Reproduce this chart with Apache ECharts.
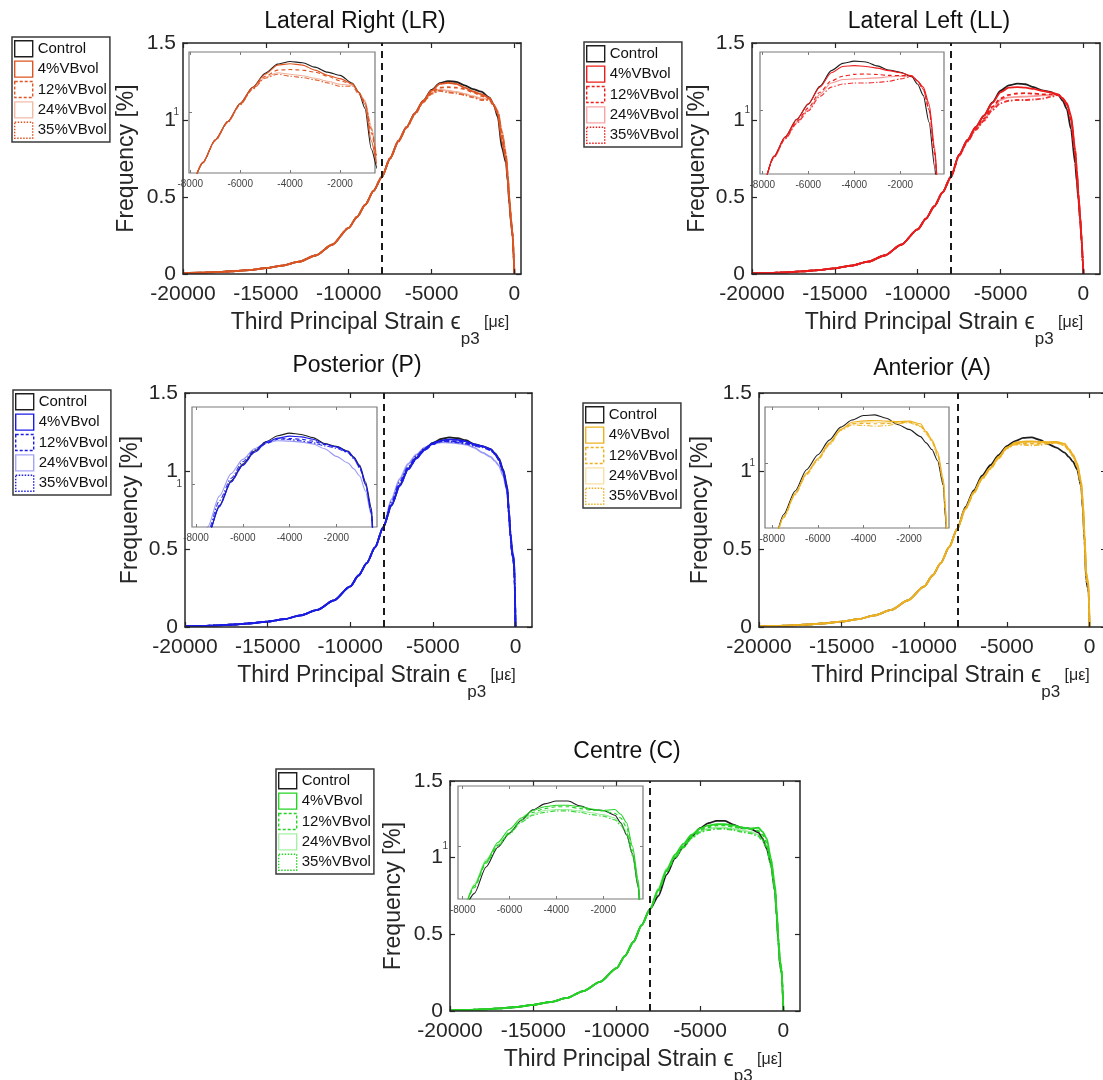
<!DOCTYPE html>
<html>
<head>
<meta charset="utf-8">
<script src="https://cdn.jsdelivr.net/npm/echarts@6/dist/echarts.min.js"></script>
<style>html,body{margin:0;padding:0;background:#fff}#c{width:1103px;height:1080px}</style>
</head>
<body>
<div id="c"></div>
<script>
// ---------------- DATA ----------------
const strainX = [-20000,-19000,-18000,-17000,-16000,-15000,-14000,-13000,-12000,-11000,-10000,-9500,-9000,-8500,-8000,
  -7500,-7000,-6500,-6000,-5500,-5000,-4500,-4000,-3500,-3000,-2500,-2000,-1500,-1250,-1000,-750,-500,-400,-300,-200,-100,-50,0];
const variantNames = ['Control','4%VBvol','12%VBvol','24%VBvol','35%VBvol'];
const mainXTicks = [-20000,-15000,-10000,-5000,0];
const insetXTicks = [-8000,-6000,-4000,-2000];
const insetYTicks = [1];

// shared low-strain tail (-20000 .. -8000), all groups overlap there
const lrTail = [0.005,0.008,0.012,0.018,0.026,0.038,0.055,0.08,0.12,0.19,0.30,0.37,0.45,0.54,0.63];
const llTail = [0.004,0.007,0.011,0.017,0.025,0.037,0.054,0.08,0.12,0.19,0.29,0.36,0.44,0.53,0.63];
const pTail  = [0.004,0.007,0.011,0.016,0.024,0.035,0.05,0.075,0.11,0.17,0.26,0.33,0.41,0.51,0.64];
const aTail  = [0.004,0.007,0.011,0.016,0.024,0.035,0.05,0.075,0.11,0.17,0.26,0.33,0.41,0.51,0.63];
const cTail  = [0.004,0.007,0.011,0.017,0.026,0.04,0.058,0.085,0.13,0.19,0.28,0.36,0.45,0.56,0.665];

// values from -7500 .. 0
const lrControl = [0.75,0.865,0.955,1.045,1.125,1.195,1.24,1.253,1.247,1.225,1.20,1.184,1.145,1.10,1.02,0.82,0.72,0.60,0.45,0.33,0.24,0.12,0];
const lr4  = [0.75,0.865,0.955,1.045,1.125,1.19,1.235,1.242,1.235,1.21,1.185,1.168,1.142,1.10,1.04,0.86,0.74,0.62,0.47,0.34,0.24,0.13,0];
const lr12 = [0.75,0.86,0.952,1.04,1.12,1.18,1.21,1.213,1.21,1.20,1.18,1.157,1.14,1.10,1.05,0.90,0.76,0.63,0.48,0.35,0.25,0.14,0];
const lr24 = [0.755,0.862,0.953,1.04,1.118,1.175,1.197,1.19,1.182,1.17,1.155,1.14,1.135,1.10,1.06,0.93,0.78,0.65,0.50,0.36,0.26,0.15,0];
const lr35 = [0.752,0.86,0.95,1.038,1.115,1.17,1.19,1.18,1.173,1.162,1.147,1.13,1.13,1.09,1.05,0.92,0.77,0.64,0.49,0.35,0.25,0.14,0];

const llControl = [0.775,0.87,0.954,1.028,1.114,1.19,1.225,1.236,1.232,1.213,1.193,1.182,1.16,1.125,1.07,0.94,0.72,0.60,0.48,0.35,0.20,0.10,0];
const ll4  = [0.775,0.87,0.955,1.03,1.11,1.18,1.21,1.214,1.21,1.202,1.19,1.18,1.165,1.14,1.11,1.03,0.80,0.68,0.52,0.38,0.22,0.10,0];
const ll12 = [0.77,0.865,0.945,1.01,1.085,1.14,1.163,1.172,1.174,1.171,1.167,1.166,1.165,1.14,1.10,1.0,0.78,0.65,0.50,0.36,0.20,0.10,0];
const ll24 = [0.77,0.862,0.94,1.0,1.075,1.13,1.147,1.15,1.152,1.155,1.16,1.163,1.163,1.14,1.10,1.02,0.82,0.68,0.52,0.37,0.21,0.10,0];
const ll35 = [0.768,0.86,0.935,0.995,1.065,1.11,1.125,1.13,1.13,1.133,1.138,1.15,1.162,1.14,1.10,1.0,0.80,0.66,0.50,0.36,0.20,0.10,0];

const pControl = [0.78,0.91,1.015,1.085,1.14,1.18,1.205,1.216,1.21,1.197,1.172,1.16,1.14,1.115,1.08,1.01,0.90,0.75,0.60,0.48,0.42,0.30,0];
const p4  = [0.78,0.905,1.01,1.08,1.135,1.175,1.195,1.203,1.20,1.19,1.17,1.158,1.138,1.112,1.075,1.0,0.88,0.72,0.58,0.47,0.45,0.32,0];
const p12 = [0.785,0.91,1.01,1.08,1.135,1.172,1.19,1.193,1.19,1.182,1.168,1.157,1.136,1.11,1.07,1.0,0.88,0.73,0.58,0.46,0.40,0.28,0];
const p24 = [0.82,0.95,1.045,1.105,1.15,1.175,1.184,1.182,1.178,1.17,1.15,1.118,1.09,1.065,1.035,0.97,0.87,0.74,0.60,0.50,0.44,0.30,0];
const p35 = [0.80,0.93,1.025,1.095,1.145,1.18,1.193,1.189,1.183,1.175,1.162,1.152,1.133,1.108,1.07,1.0,0.89,0.74,0.59,0.48,0.43,0.31,0];

const aControl = [0.77,0.875,0.97,1.037,1.102,1.16,1.192,1.212,1.215,1.20,1.172,1.15,1.118,1.09,1.06,1.01,0.90,0.75,0.55,0.30,0.25,0.22,0];
const a4  = [0.76,0.865,0.955,1.02,1.09,1.15,1.182,1.188,1.19,1.187,1.185,1.187,1.175,1.14,1.105,1.05,0.93,0.80,0.60,0.35,0.30,0.25,0];
const a12 = [0.76,0.862,0.952,1.018,1.085,1.15,1.175,1.177,1.175,1.176,1.18,1.182,1.168,1.14,1.10,1.04,0.92,0.78,0.58,0.34,0.28,0.24,0];
const a24 = [0.758,0.86,0.95,1.015,1.083,1.148,1.175,1.182,1.183,1.18,1.18,1.185,1.165,1.135,1.10,1.04,0.92,0.78,0.58,0.33,0.28,0.23,0];
const a35 = [0.756,0.858,0.948,1.012,1.08,1.145,1.17,1.168,1.164,1.167,1.175,1.18,1.163,1.13,1.095,1.03,0.91,0.77,0.57,0.32,0.27,0.23,0];

const cControl = [0.75,0.89,0.995,1.07,1.138,1.193,1.225,1.24,1.24,1.215,1.195,1.19,1.165,1.125,1.06,0.96,0.78,0.62,0.45,0.30,0.25,0.15,0];
const c4  = [0.79,0.92,1.02,1.09,1.15,1.19,1.21,1.218,1.218,1.21,1.198,1.19,1.195,1.17,1.125,1.0,0.82,0.66,0.48,0.33,0.27,0.16,0];
const c12 = [0.78,0.91,1.005,1.075,1.14,1.18,1.20,1.21,1.21,1.20,1.192,1.187,1.175,1.15,1.10,0.98,0.80,0.64,0.47,0.32,0.26,0.15,0];
const c24 = [0.80,0.93,1.01,1.07,1.13,1.17,1.19,1.195,1.195,1.188,1.178,1.168,1.15,1.12,1.08,0.96,0.79,0.63,0.46,0.31,0.25,0.15,0];
const c35 = [0.79,0.915,1.0,1.065,1.127,1.165,1.18,1.188,1.188,1.18,1.168,1.16,1.14,1.11,1.07,0.95,0.78,0.62,0.45,0.30,0.24,0.14,0];

const panelData = [
  {tail: lrTail, lines: [lrControl, lr4, lr12, lr24, lr35]},
  {tail: llTail, lines: [llControl, ll4, ll12, ll24, ll35]},
  {tail: pTail,  lines: [pControl, p4, p12, p24, p35]},
  {tail: aTail,  lines: [aControl, a4, a12, a24, a35]},
  {tail: cTail,  lines: [cControl, c4, c12, c24, c35]}
];

// ---------------- LAYOUT / STYLE ----------------
const panels = [
  {title:'Lateral Right (LR)', color:'#DD5522', main:{left:183,top:43,width:338,height:231}, xMax:400,
   inset:{left:189,top:52,width:186,height:121}, insetX:[-8050,-600], insetY:[0.7,1.3], legend:{left:12,top:37}, tc:[355,23], yGap:43},
  {title:'Lateral Left (LL)', color:'#EE1C1C', main:{left:752,top:43,width:348,height:231}, xMax:1000,
   inset:{left:760,top:52,width:184,height:122}, insetX:[-8100,-100], insetY:[0.69,1.28], legend:{left:584,top:42}, tc:[929,23], yGap:41},
  {title:'Posterior (P)', color:'#1C1CE8', main:{left:185,top:393,width:347,height:234}, xMax:1000,
   inset:{left:192,top:407,width:185,height:120}, insetX:[-8170,-260], insetY:[0.82,1.326], legend:{left:13,top:390}, tc:[357,367], yGap:41},
  {title:'Anterior (A)', color:'#EDB120', main:{left:759,top:393,width:347,height:234}, xMax:1000,
   inset:{left:765,top:407,width:184,height:121}, insetX:[-8320,-250], insetY:[0.71,1.25], legend:{left:583,top:403}, tc:[932,370], yGap:45},
  {title:'Centre (C)', color:'#25D425', main:{left:450,top:781,width:350,height:230}, xMax:1000,
   inset:{left:458,top:786,width:185,height:113}, insetX:[-8200,-300], insetY:[0.72,1.32], legend:{left:276,top:769}, tc:[627,753], yGap:43}
];

const FONT = '"Liberation Sans", Arial, Helvetica, sans-serif';
const AX = '#262626';
const INSET_AX = '#7a7a7a';

function rgba(hex, a) {
  const n = parseInt(hex.slice(1), 16);
  return 'rgba(' + ((n >> 16) & 255) + ',' + ((n >> 8) & 255) + ',' + (n & 255) + ',' + a + ')';
}
function lineStyleFor(color, j, width) {
  const s = [
    {color:'#1e1e1e', type:'solid'},
    {color:color, type:'solid'},
    {color:color, type:[4,3]},
    {color:rgba(color,0.45), type:'solid'},
    {color:rgba(color,0.9), type:[5,2,1.5,2]}
  ][j];
  return {color:s.color, type:s.type, width:width};
}
function legendItemStyle(color, j) {
  const s = [
    {c:'#1e1e1e', t:'solid'},
    {c:color, t:'solid'},
    {c:color, t:[3,2]},
    {c:rgba(color,0.4), t:'solid'},
    {c:color, t:[1.5,1.5]}
  ][j];
  return {color:'#fff', borderColor:s.c, borderWidth:1.4, borderType:s.t};
}
const fmt = v => String(v);

const option = {
  animation:false,
  textStyle:{fontFamily:FONT},
  title:[], legend:[], grid:[], xAxis:[], yAxis:[], series:[]
};

panels.forEach((p, pi) => {
  const gMain = option.grid.length;
  option.grid.push(Object.assign({show:false, containLabel:false, outerBoundsMode:'none'}, p.main));
  option.grid.push(Object.assign({show:true, containLabel:false, outerBoundsMode:'none', backgroundColor:'#fff',
    borderColor:INSET_AX, borderWidth:1.2, z:10}, p.inset));
  const gIns = gMain + 1;

  option.title.push({text:p.title, left:p.tc[0], top:p.tc[1]-13, textAlign:'center', padding:0,
    textStyle:{fontSize:23, fontWeight:'normal', color:'#111', fontFamily:FONT}});

  option.legend.push({
    left:p.legend.left, top:p.legend.top, orient:'vertical', icon:'rect', selectedMode:false,
    itemWidth:18, itemHeight:16, itemGap:3, padding:[3,3,3,2],
    backgroundColor:'#fff', borderColor:'#3a3a3a', borderWidth:1.5,
    textStyle:{fontSize:15, color:'#111', lineHeight:16, fontFamily:FONT},
    data: variantNames.map((n, j) => ({name:n, itemStyle:legendItemStyle(p.color, j)}))
  });

  const xb = option.xAxis.length;
  option.xAxis.push({
    type:'value', gridIndex:gMain, position:'bottom', min:-20000, max:p.xMax, z:3,
    axisLine:{show:true, onZero:false, lineStyle:{color:AX, width:1.5}},
    axisTick:{show:true, inside:true, length:5, customValues:mainXTicks, lineStyle:{color:AX, width:1.2}},
    axisLabel:{show:true, customValues:mainXTicks, formatter:fmt, fontSize:21, color:AX, margin:10, fontFamily:FONT},
    splitLine:{show:false},
    name:'{m|Third Principal Strain }{m|ϵ}{s|p3}{u| [με]}', nameLocation:'middle', nameGap:24, nameMoveOverlap:false,
    nameTextStyle:{padding:[0,0,0,36], fontFamily:FONT, rich:{
      m:{fontSize:23, lineHeight:50, verticalAlign:'middle', color:AX, fontFamily:FONT},
      s:{fontSize:17, lineHeight:20, verticalAlign:'bottom', color:AX, fontFamily:FONT},
      u:{fontSize:16, lineHeight:20, verticalAlign:'middle', color:AX, fontFamily:FONT}
    }}
  });
  option.xAxis.push({
    type:'value', gridIndex:gMain, position:'top', min:-20000, max:p.xMax, z:3,
    axisLine:{show:true, onZero:false, lineStyle:{color:AX, width:1.5}},
    axisTick:{show:true, inside:true, length:5, customValues:mainXTicks, lineStyle:{color:AX, width:1.2}},
    axisLabel:{show:false}, splitLine:{show:false}
  });
  option.xAxis.push({
    type:'value', gridIndex:gIns, position:'bottom', min:p.insetX[0], max:p.insetX[1], z:12,
    axisLine:{show:false, onZero:false},
    axisTick:{show:true, inside:true, length:3, customValues:insetXTicks, lineStyle:{color:INSET_AX, width:1}},
    axisLabel:{show:true, customValues:insetXTicks, formatter:fmt, fontSize:10, color:'#444', margin:6, fontFamily:FONT},
    splitLine:{show:false}
  });
  option.xAxis.push({
    type:'value', gridIndex:gIns, position:'top', min:p.insetX[0], max:p.insetX[1], z:12,
    axisLine:{show:false, onZero:false},
    axisTick:{show:true, inside:true, length:3, customValues:insetXTicks, lineStyle:{color:INSET_AX, width:1}},
    axisLabel:{show:false}, splitLine:{show:false}
  });

  const yb = option.yAxis.length;
  option.yAxis.push({
    type:'value', gridIndex:gMain, position:'left', min:0, max:1.5, interval:0.5, z:3,
    axisLine:{show:true, onZero:false, lineStyle:{color:AX, width:1.5}},
    axisTick:{show:true, inside:true, length:5, lineStyle:{color:AX, width:1.2}},
    axisLabel:{show:true, formatter:fmt, fontSize:21, color:AX, margin:7, fontFamily:FONT},
    splitLine:{show:false},
    name:'Frequency [%]', nameLocation:'middle', nameRotate:90, nameGap:p.yGap, nameMoveOverlap:false,
    nameTextStyle:{fontSize:23, color:AX, lineHeight:26, fontFamily:FONT}
  });
  option.yAxis.push({
    type:'value', gridIndex:gMain, position:'right', min:0, max:1.5, interval:0.5, z:3,
    axisLine:{show:true, onZero:false, lineStyle:{color:AX, width:1.5}},
    axisTick:{show:true, inside:true, length:5, lineStyle:{color:AX, width:1.2}},
    axisLabel:{show:false}, splitLine:{show:false}
  });
  option.yAxis.push({
    type:'value', gridIndex:gIns, position:'left', min:p.insetY[0], max:p.insetY[1], z:12,
    axisLine:{show:false, onZero:false},
    axisTick:{show:true, inside:true, length:3, customValues:insetYTicks, lineStyle:{color:INSET_AX, width:1}},
    axisLabel:{show:true, customValues:insetYTicks, formatter:fmt, fontSize:10, color:'#444', margin:10, fontFamily:FONT},
    splitLine:{show:false}
  });
  option.yAxis.push({
    type:'value', gridIndex:gIns, position:'right', min:p.insetY[0], max:p.insetY[1], z:12,
    axisLine:{show:false, onZero:false},
    axisTick:{show:true, inside:true, length:3, customValues:insetYTicks, lineStyle:{color:INSET_AX, width:1}},
    axisLabel:{show:false}, splitLine:{show:false}
  });

  const d = panelData[pi];
  variantNames.forEach((name, j) => {
    const data = strainX.map((x, k) => [x, k < d.tail.length ? d.tail[k] : d.lines[j][k - d.tail.length]]);
    const common = {type:'line', name:name, data:data, showSymbol:false, symbol:'none',
      smooth:0.25, smoothMonotone:'x', silent:true, animation:false, emphasis:{disabled:true}};
    const mainS = Object.assign({}, common, {xAxisIndex:xb, yAxisIndex:yb, z:2,
      itemStyle:{color:lineStyleFor(p.color, j, 1.8).color}, lineStyle:lineStyleFor(p.color, j, 1.8)});
    const insS = Object.assign({}, common, {xAxisIndex:xb+2, yAxisIndex:yb+2, z:11,
      itemStyle:{color:lineStyleFor(p.color, j, 1.1).color}, lineStyle:lineStyleFor(p.color, j, 1.1)});
    if (j === 0) {
      mainS.markLine = {silent:true, symbol:['none','none'], label:{show:false}, animation:false,
        lineStyle:{color:'#1a1a1a', width:2, type:[7,5]}, emphasis:{disabled:true}, data:[{xAxis:-8000}]};
      insS.markLine = {silent:true, symbol:['none','none'], label:{show:false}, animation:false,
        lineStyle:{color:'#333', width:1, type:[2,2]}, emphasis:{disabled:true}, data:[{xAxis:-8000}]};
    }
    option.series.push(mainS, insS);
  });
});

const chart = echarts.init(document.getElementById('c'), null, {renderer:'canvas'});
chart.setOption(option);
</script>
</body>
</html>
